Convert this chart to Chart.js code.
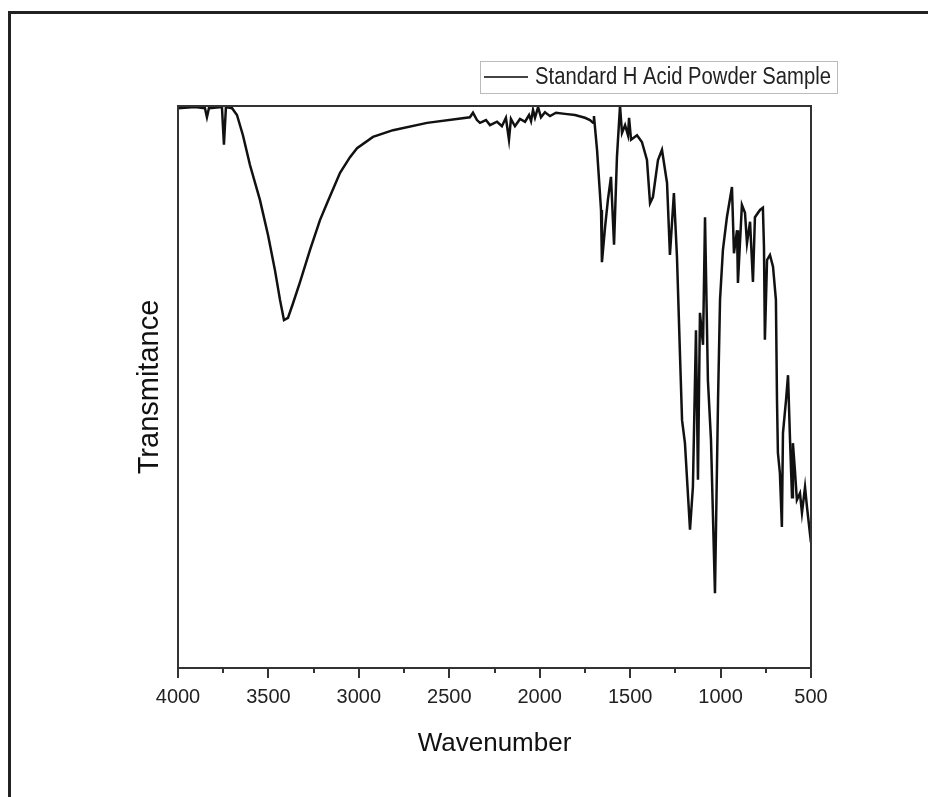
<!DOCTYPE html>
<html>
<head>
<meta charset="utf-8">
<script src="https://cdn.jsdelivr.net/npm/chart.js@4"></script>
<style>
  body { margin: 0; background: #fff; overflow: hidden; }
  #wrap { position: relative; width: 928px; height: 797px; }
  #frame { position: absolute; left: 8px; top: 11px; width: 1000px; height: 1000px;
           border-top: 3px solid #222; border-left: 3px solid #222; pointer-events: none; }
</style>
</head>
<body>
<div id="wrap">
  <canvas id="ftir" width="928" height="797"></canvas>
  <div id="frame"></div>
</div>
<script>
// FTIR spectrum
const wavenumbers = [4000, 3906, 3851, 3840, 3829, 3757, 3746, 3735, 3701, 3674,
    3641, 3602, 3547, 3502, 3464, 3436, 3414, 3392, 3364, 3325,
    3270, 3215, 3176, 3104, 3049, 3010, 2922, 2811, 2623, 2386,
    2369, 2347, 2330, 2297, 2275, 2236, 2209, 2187, 2170, 2159,
    2137, 2109, 2081, 2059, 2048, 2037, 2026, 2009, 1993, 1971,
    1943, 1910, 1860, 1805, 1750, 1722, 1705, 1700, 1683, 1661,
    1656, 1639, 1623, 1606, 1589, 1573, 1556, 1545, 1528, 1512,
    1506, 1495, 1462, 1435, 1407, 1390, 1374, 1346, 1324, 1296,
    1280, 1258, 1241, 1224, 1213, 1197, 1169, 1153, 1136, 1125,
    1114, 1097, 1086, 1070, 1053, 1031, 1014, 1003, 987, 965,
    937, 926, 909, 904, 882, 865, 854, 837, 821, 810,
    782, 766, 760, 755, 743, 727, 710, 694, 688, 683,
    672, 661, 655, 638, 627, 616, 605, 600, 589, 578,
    561, 550, 533, 522, 506, 500];
const transmittance = [99.6, 99.8, 99.6, 98.0, 99.6, 99.8, 93.1, 99.8, 99.6, 98.4,
    94.8, 89.5, 83.3, 77.0, 70.8, 65.5, 61.9, 62.3, 64.9, 68.7,
    74.4, 79.7, 82.7, 88.1, 90.9, 92.5, 94.5, 95.7, 97.0, 98.0,
    98.8, 97.5, 97.0, 97.5, 96.6, 97.2, 96.4, 97.9, 94.0, 97.7,
    96.4, 97.7, 97.2, 98.4, 97.3, 99.3, 97.9, 99.8, 98.0, 98.9,
    98.2, 98.8, 98.6, 98.4, 97.9, 97.5, 97.0, 98.2, 92.2, 81.5,
    72.2, 78.3, 83.3, 87.4, 75.3, 90.9, 100, 95.2, 96.6, 94.8,
    97.9, 94.0, 94.8, 93.6, 90.4, 82.7, 83.8, 90.4, 92.2, 86.3,
    73.5, 84.5, 73.1, 55.3, 44.1, 40.0, 24.6, 32.2, 60.1, 33.5,
    63.2, 57.5, 80.2, 51.2, 40.6, 13.3, 47.7, 65.5, 74.4, 80.2,
    85.6, 73.8, 77.9, 68.5, 82.4, 81.0, 75.6, 79.4, 68.7, 80.2,
    81.5, 81.9, 74.9, 58.4, 72.6, 73.5, 71.4, 65.5, 47.7, 38.3,
    34.7, 25.1, 41.8, 47.7, 52.1, 40.6, 30.4, 40.0, 35.2, 29.9,
    31.1, 27.6, 32.2, 28.6, 24.0, 25.4];
const seriesName = 'Standard H Acid Powder Sample';
const minorTicks = [3750, 3250, 2750, 2250, 1750, 1250, 750];

const points = wavenumbers.map((w, i) => ({ x: w, y: transmittance[i] }));

Chart.defaults.font.family = "'Liberation Sans', Arial, sans-serif";
Chart.defaults.color = '#222';

// box around the plot, minor ticks and the legend
const extras = {
    id: 'extras',
    afterDraw(chart) {
        const ctx = chart.ctx;
        const a = chart.chartArea;
        const xs = chart.scales.x;
        ctx.save();
        ctx.strokeStyle = '#333';
        ctx.lineWidth = 2;
        ctx.strokeRect(a.left, a.top, a.right - a.left, a.bottom - a.top);
        ctx.beginPath();
        minorTicks.forEach(v => {
            const px = Math.round(xs.getPixelForValue(v));
            ctx.moveTo(px, a.bottom);
            ctx.lineTo(px, a.bottom + 5);
        });
        ctx.stroke();

        // legend (text squeezed to the width it has in the picture)
        ctx.strokeStyle = '#bbb';
        ctx.lineWidth = 1;
        ctx.strokeRect(480.5, 61.5, 357, 32);
        ctx.strokeStyle = '#444';
        ctx.lineWidth = 2;
        ctx.beginPath();
        ctx.moveTo(484, 77);
        ctx.lineTo(528, 77);
        ctx.stroke();
        ctx.fillStyle = '#222';
        ctx.font = '23px "Liberation Sans", Arial, sans-serif';
        ctx.textBaseline = 'middle';
        const w = ctx.measureText(seriesName).width;
        ctx.translate(535, 78);
        ctx.scale(296 / w, 1);
        ctx.fillText(seriesName, 0, 0);
        ctx.restore();
    }
};

new Chart(document.getElementById('ftir').getContext('2d'), {
    type: 'line',
    data: {
        datasets: [{
            label: seriesName,
            data: points,
            borderColor: '#111',
            borderWidth: 2.5,
            pointRadius: 0,
            tension: 0,
            fill: false
        }]
    },
    options: {
        responsive: false,
        animation: false,
        layout: { padding: { left: 120, top: 106, right: 117, bottom: 0 } },
        plugins: { legend: { display: false }, tooltip: { enabled: false } },
        scales: {
            x: {
                type: 'linear',
                reverse: true,
                min: 500,
                max: 4000,
                afterFit(scale) { scale.height = 129; },
                border: { display: false },
                grid: { drawOnChartArea: false, drawTicks: true, tickLength: 10, color: '#333', lineWidth: 2 },
                ticks: { stepSize: 500, padding: 7, color: '#222', font: { size: 20 },
                         callback: v => String(v) },
                title: { display: true, text: 'Wavenumber', font: { size: 26 }, color: '#111', padding: { bottom: 38 } }
            },
            y: {
                min: 0,
                max: 100,
                afterFit(scale) { scale.width = 58; },
                border: { display: false },
                grid: { display: false },
                ticks: { display: false },
                title: { display: true, text: 'Transmitance', font: { size: 29 }, color: '#111', padding: { top: 13 } }
            }
        }
    },
    plugins: [extras]
});
</script>
</body>
</html>
